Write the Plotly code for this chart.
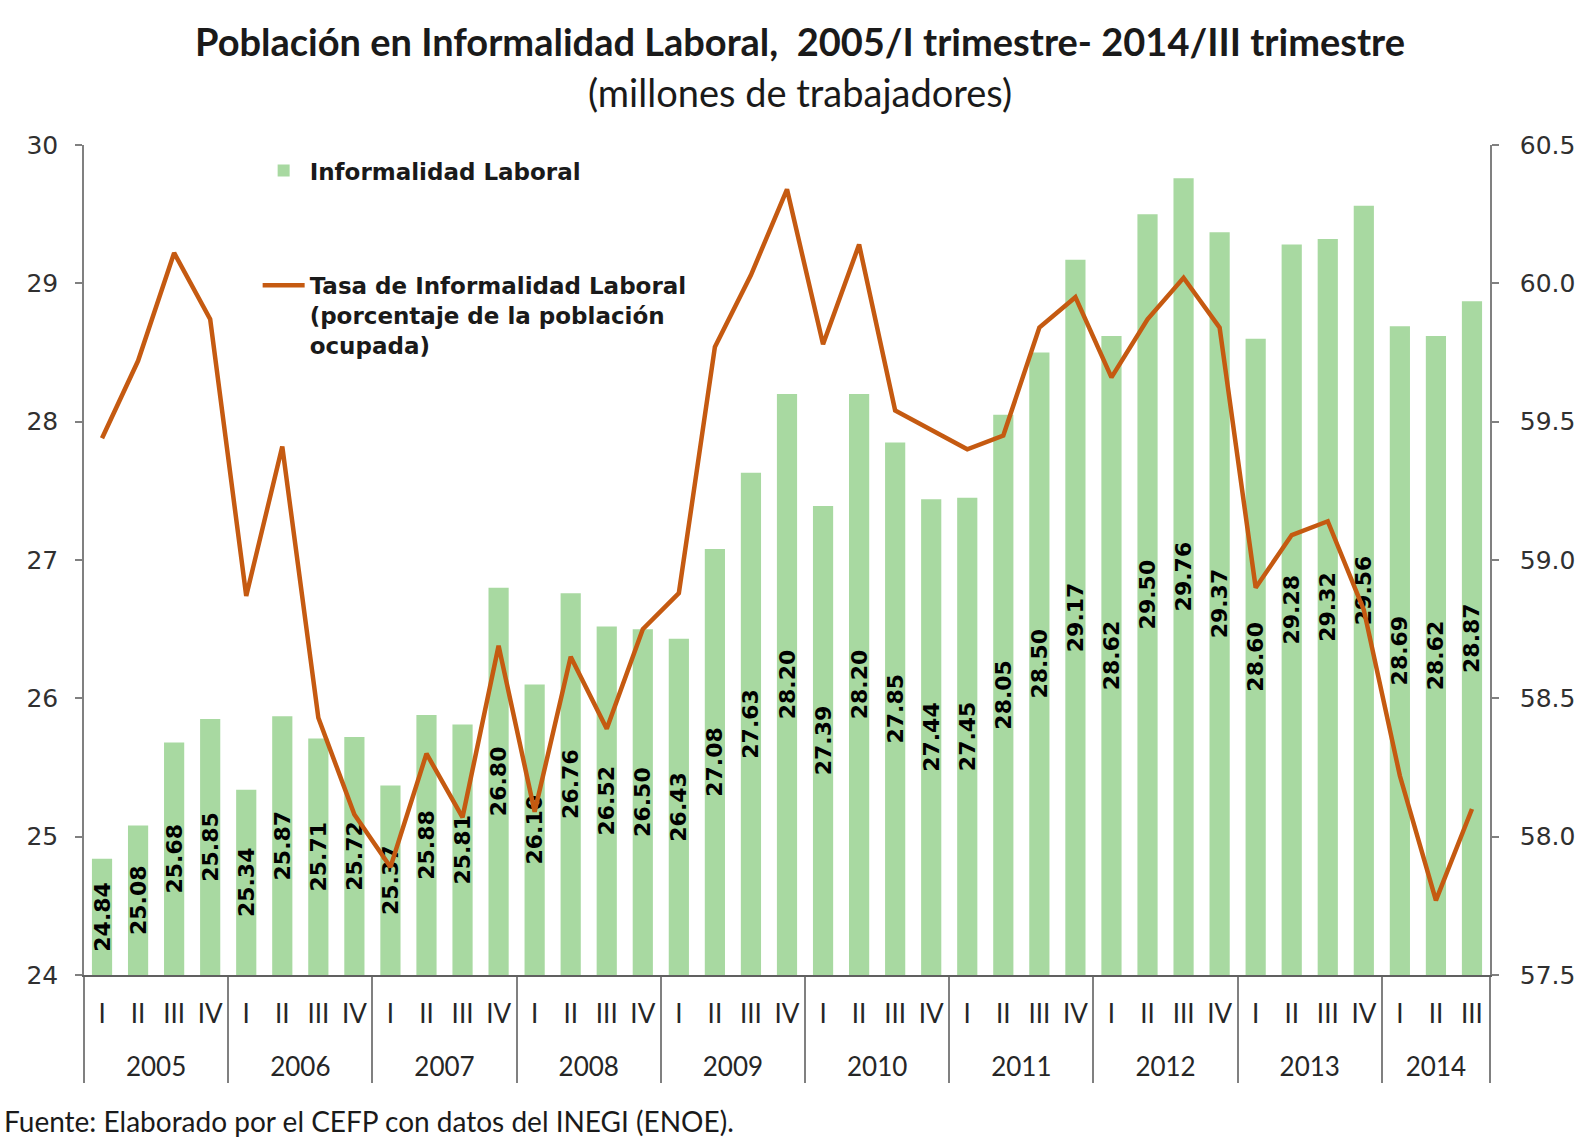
import plotly.graph_objects as go

# ---------------- data ----------------
years = ["2005", "2006", "2007", "2008", "2009", "2010", "2011", "2012", "2013", "2014"]
quarters = ["I", "II", "III", "IV"]
quarters_per_year = [4, 4, 4, 4, 4, 4, 4, 4, 4, 3]

informalidad = [
    24.84, 25.08, 25.68, 25.85,
    25.34, 25.87, 25.71, 25.72,
    25.37, 25.88, 25.81, 26.80,
    26.10, 26.76, 26.52, 26.50,
    26.43, 27.08, 27.63, 28.20,
    27.39, 28.20, 27.85, 27.44,
    27.45, 28.05, 28.50, 29.17,
    28.62, 29.50, 29.76, 29.37,
    28.60, 29.28, 29.32, 29.56,
    28.69, 28.62, 28.87,
]

tasa = [
    59.44, 59.72, 60.11, 59.87,
    58.87, 59.41, 58.43, 58.08,
    57.89, 58.30, 58.07, 58.69,
    58.09, 58.65, 58.39, 58.75,
    58.88, 59.77, 60.03, 60.34,
    59.78, 60.14, 59.54, 59.47,
    59.40, 59.45, 59.84, 59.95,
    59.66, 59.87, 60.02, 59.84,
    58.90, 59.09, 59.14, 58.82,
    58.22, 57.77, 58.10,
]

left_range = [24, 30]
right_range = [57.5, 60.5]

# quarter labels get an extra blank line so the year row sits lower
x_year, x_quarter = [], []
for yr, nq in zip(years, quarters_per_year):
    for q in quarters[:nq]:
        x_year.append(yr)
        x_quarter.append(q + "<br>\u00a0")

BASE = left_range[0]

fig = go.Figure()
fig.add_trace(go.Bar(
    x=[x_year, x_quarter],
    y=[v - BASE for v in informalidad],
    base=BASE,
    text=[f"{v:.2f}" for v in informalidad],
    textposition="inside",
    insidetextanchor="middle",
    textangle=-90,
    textfont=dict(family="DejaVu Sans", size=22, color="#000000", weight="bold"),
    marker=dict(color="#A8D9A1", line_width=0),
    name="Informalidad Laboral",
    legend="legend",
    showlegend=True,
    cliponaxis=False,
))
fig.add_trace(go.Scatter(
    x=[x_year, x_quarter],
    y=tasa,
    yaxis="y2",
    mode="lines",
    line=dict(color="#C55A11", width=4.5),
    name="Tasa de Informalidad Laboral<br>(porcentaje de la población<br>ocupada)",
    legend="legend2",
    showlegend=True,
))

axis_gray = "#808080"
ytick_font = dict(family="DejaVu Sans", size=25, color="#303030")
legend_font = dict(family="DejaVu Sans", size=23, color="#1a1a1a", weight="bold")

fig.update_layout(
    width=1589,
    height=1140,
    showlegend=True,
    margin=dict(l=84, r=99, t=145, b=165, autoexpand=False),
    paper_bgcolor="white",
    plot_bgcolor="white",
    bargap=0.44,
    uniformtext=dict(minsize=22, mode="show"),
    title=dict(
        text="<b>Población en Informalidad Laboral,  2005/I trimestre- 2014/III trimestre</b>",
        font=dict(family="Lato", size=38, color="#1a1a1a"),
        x=800 / 1589, xanchor="center", xref="container",
        y=1 - 43 / 1140, yanchor="middle", yref="container",
    ),
    xaxis=dict(
        type="multicategory",
        showdividers=True,
        dividercolor=axis_gray,
        dividerwidth=1.5,
        ticks="",
        showline=True,
        linecolor="#606060",
        linewidth=1.5,
        showgrid=False,
        ticklabelstandoff=15,
        tickfont=dict(family="Lato", size=26, color="#262626"),
    ),
    yaxis=dict(
        range=left_range,
        tick0=24, dtick=1,
        ticks="outside", ticklen=7, tickcolor=axis_gray, tickwidth=1.5,
        showline=True, linecolor=axis_gray, linewidth=1.5,
        showgrid=False, zeroline=False,
        tickfont=ytick_font,
        ticklabelstandoff=12,
    ),
    yaxis2=dict(
        overlaying="y", side="right",
        range=right_range,
        tick0=57.5, dtick=0.5, tickformat=".1f",
        ticks="outside", ticklen=7, tickcolor=axis_gray, tickwidth=1.5,
        showline=True, linecolor=axis_gray, linewidth=1.5,
        showgrid=False, zeroline=False,
        tickfont=ytick_font,
        ticklabelstandoff=16,
    ),
    legend=dict(
        x=0.1235, y=0.995, xanchor="left", yanchor="top",
        bgcolor="rgba(0,0,0,0)", itemwidth=42,
        font=legend_font,
    ),
    legend2=dict(
        x=0.1235, y=0.857, xanchor="left", yanchor="top",
        bgcolor="rgba(0,0,0,0)", valign="top", itemwidth=42,
        font=legend_font,
    ),
    annotations=[
        dict(
            text="(millones de trabajadores)",
            xref="paper", yref="paper",
            x=(800 - 84) / 1406, y=(975 - 92) / 830,
            xanchor="center", yanchor="middle",
            showarrow=False,
            font=dict(family="Lato", size=38, color="#1a1a1a"),
        ),
        dict(
            text="Fuente: Elaborado por el CEFP con datos del INEGI (ENOE).",
            xref="paper", yref="paper",
            x=(2 - 84) / 1406, y=(975 - 1140) / 830,
            xanchor="left", yanchor="bottom",
            showarrow=False,
            font=dict(family="Lato", size=28, color="#1a1a1a"),
        ),
    ],
)

fig.write_html(
    "out.html",
    config={"displayModeBar": False},
    post_script="document.body.style.margin='0';document.body.style.overflow='hidden';",
)
